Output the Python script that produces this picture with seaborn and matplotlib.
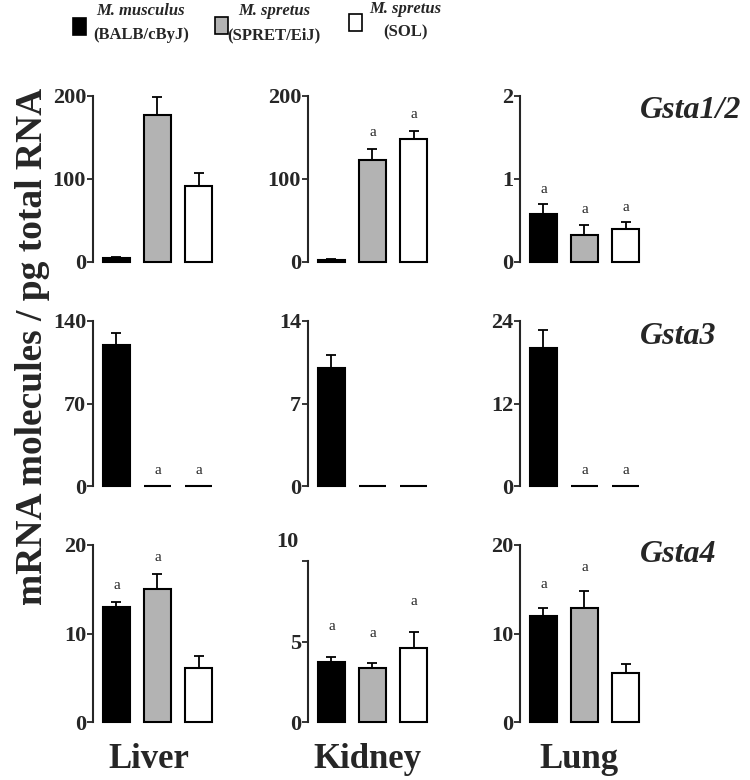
import matplotlib
matplotlib.use("Agg")
import matplotlib.pyplot as plt
from matplotlib.patches import Rectangle
import numpy as np
import pandas as pd
import seaborn as sns

# ---------------- data ----------------
strains = ["BALB/cByJ", "SPRET/EiJ", "SOL"]
species = ["M. musculus", "M. spretus", "M. spretus"]
tissues = ["Liver", "Kidney", "Lung"]
genes = ["Gsta1/2", "Gsta3", "Gsta4"]

# mean mRNA molecules / pg total RNA, per tissue (Liver, Kidney, Lung), per strain
gsta12_mean = [[5, 177, 92], [3, 123, 148], [0.58, 0.33, 0.40]]
gsta12_err = [[1.5, 22, 15], [0.5, 13, 10], [0.12, 0.12, 0.08]]
gsta3_mean = [[120, 0.4, 0.4], [10.0, 0.04, 0.04], [20.1, 0.07, 0.07]]
gsta3_err = [[10, 0, 0], [1.1, 0, 0], [2.6, 0, 0]]
gsta4_mean = [[13.0, 15.0, 6.1], [3.7, 3.35, 4.6], [12.0, 12.9, 5.5]]
gsta4_err = [[0.6, 1.7, 1.4], [0.35, 0.3, 1.0], [0.9, 1.9, 1.1]]

# significance marks ("a")
gsta12_sig = [[0, 0, 0], [0, 1, 1], [1, 1, 1]]
gsta3_sig = [[0, 1, 1], [0, 0, 0], [0, 1, 1]]
gsta4_sig = [[1, 1, 0], [1, 1, 1], [1, 1, 0]]

# y ticks per panel
gsta12_ticks = [[0, 100, 200], [0, 100, 200], [0, 1, 2]]
gsta3_ticks = [[0, 70, 140], [0, 7, 14], [0, 12, 24]]
gsta4_ticks = [[0, 10, 20], [0, 5, 10], [0, 10, 20]]

means = [gsta12_mean, gsta3_mean, gsta4_mean]
errs = [gsta12_err, gsta3_err, gsta4_err]
sigs = [gsta12_sig, gsta3_sig, gsta4_sig]
ticks = [gsta12_ticks, gsta3_ticks, gsta4_ticks]

colors = ["#000000", "#b3b3b3", "#ffffff"]

# ---------------- style ----------------
sns.set_style("ticks")
plt.rcParams["font.family"] = ["Liberation Serif", "DejaVu Serif"]
plt.rcParams["font.weight"] = "bold"

W, H = 750, 780
fig = plt.figure(figsize=(7.5, 7.8), dpi=100)

col_left = [93, 308, 520]
ax_w = 124
row_box = [(96, 262), (321, 486), (545, 722)]  # (top, bottom) pixels
a_pad = [[7, 7, 6], [6, 6, 6], [7, 17, 12]]  # offset (points) of "a" marks


def px_axes(left, top, bottom):
    return [left / W, 1 - bottom / H, ax_w / W, (bottom - top) / H]


for r in range(3):
    for c in range(3):
        top, bottom = row_box[r]
        ax = fig.add_axes(px_axes(col_left[c], top, bottom))
        df = pd.DataFrame({"strain": strains, "value": means[r][c]})
        sns.barplot(data=df, x="strain", y="value", hue="strain", order=strains,
                    hue_order=strains, palette=colors, legend=False,
                    edgecolor="black", linewidth=1.5, width=0.66,
                    errorbar=None, ax=ax)
        for bar in ax.patches:
            bar.set_clip_on(False)
        e = np.array(errs[r][c])
        m = np.array(means[r][c])
        idx = np.where(e > 0)[0]
        if len(idx):
            ax.errorbar(idx, m[idx], yerr=[np.zeros(len(idx)), e[idx]], fmt="none",
                        ecolor="black", elinewidth=1.3, capsize=3.5, capthick=1.3,
                        clip_on=False, zorder=5)
        tk = ticks[r][c]
        ymax = tk[-1]
        if r == 2 and c == 1:
            ymax = tk[-1] * (bottom - top) / (bottom - top - 16)
        ax.set_ylim(0, ymax)
        ax.set_xlim(-0.57, 2.45)
        ax.set_yticks(tk)
        labels = [str(t) for t in tk]
        if r == 2 and c == 1:
            labels[-1] = ""
            ax.annotate(str(tk[-1]), xy=(0, ymax), xycoords=("axes fraction", "data"),
                        xytext=(-7, 2), textcoords="offset points", ha="right",
                        va="center", fontsize=16, fontweight="bold")
        ax.set_yticklabels(labels, fontsize=16, fontweight="bold")
        ax.set_xticks([])
        ax.set_xlabel("")
        ax.set_ylabel("")
        sns.despine(ax=ax, bottom=True)
        ax.spines["left"].set_bounds(0, tk[-1])
        ax.spines["left"].set_linewidth(1.5)
        ax.tick_params(axis="y", direction="out", length=4, width=1.3, pad=1)
        for k in range(3):
            if sigs[r][c][k]:
                ax.annotate("a", xy=(k, m[k] + e[k]), xytext=(0, a_pad[r][c]),
                            textcoords="offset points", ha="center", va="bottom",
                            fontsize=11, fontweight="normal")

# gene labels
gene_y = [111, 337, 555]
for g, y in zip(genes, gene_y):
    fig.text(640 / W, 1 - y / H, g, ha="left", va="center", fontsize=23,
             fontstyle="italic", fontweight="bold")

# tissue labels
tissue_x = [149, 367, 579]
for t, x in zip(tissues, tissue_x):
    fig.text(x / W, 1 - 759 / H, t, ha="center", va="center", fontsize=25,
             fontweight="bold")

# y-axis label
fig.text(33 / W, 1 - 346 / H, "mRNA molecules / pg total RNA", rotation=90,
         ha="center", va="center", fontsize=27, fontweight="bold")

# legend
sq = [(73, 18), (215, 17), (349, 14)]
txt_x = [141, 274, 405]
txt_y = [(11, 35), (11, 35), (9, 32)]
for k in range(3):
    x0, y0 = sq[k]
    fig.add_artist(Rectangle((x0 / W, 1 - (y0 + 17) / H), 13 / W, 17 / H,
                             transform=fig.transFigure, facecolor=colors[k],
                             edgecolor="black", linewidth=1.2))
    fig.text(txt_x[k] / W, 1 - txt_y[k][0] / H, species[k], ha="center", va="center",
             fontsize=12, fontstyle="italic", fontweight="bold")
    fig.text(txt_x[k] / W, 1 - txt_y[k][1] / H, "(" + strains[k] + ")", ha="center",
             va="center", fontsize=12, fontweight="bold")

fig.savefig("out.png", dpi=100)
